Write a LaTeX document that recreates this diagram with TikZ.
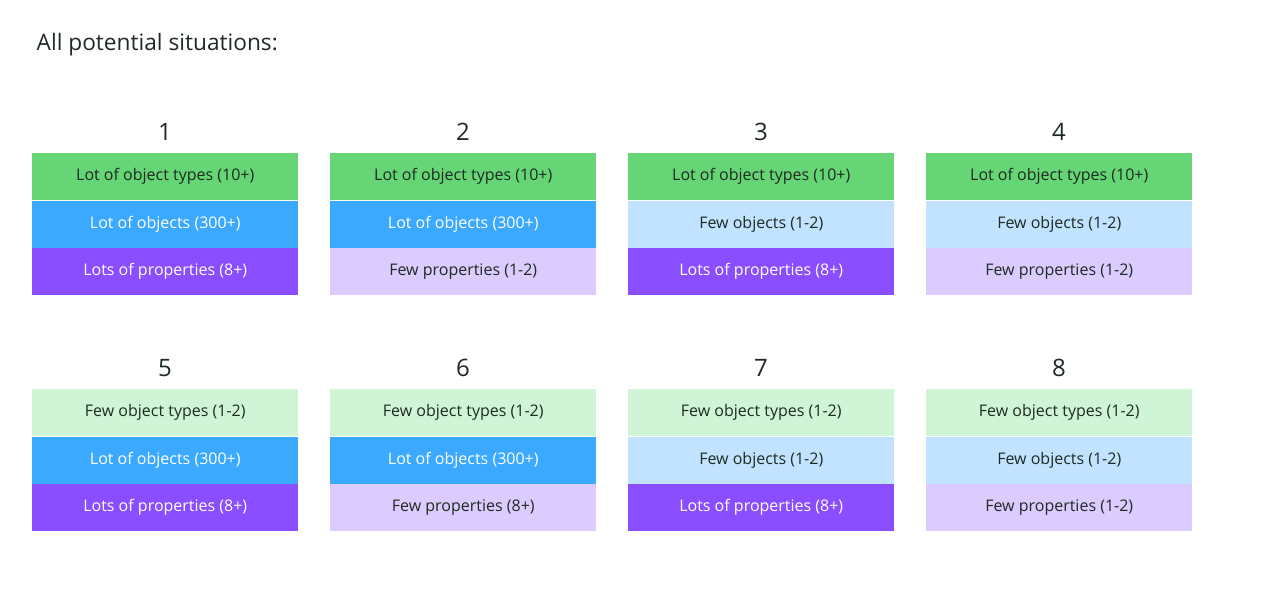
\documentclass[tikz,border=0pt]{standalone}
\usepackage{fontspec}
\setmainfont{Open Sans}
\definecolor{typesLot}{HTML}{66D575}
\definecolor{typesFew}{HTML}{CFF5D6}
\definecolor{objLot}{HTML}{3AA9FF}
\definecolor{objFew}{HTML}{C2E3FF}
\definecolor{propLot}{HTML}{8A4DFF}
\definecolor{propFew}{HTML}{DCCBFF}
\definecolor{ink}{HTML}{1E2A22}
\tikzset{
  cell/.style={minimum width=266*0.75pt, minimum height=47*0.75pt, inner sep=0pt,
    anchor=north west, font=\fontsize{12}{14}\selectfont, text=ink},
  light/.style={cell, text=white},
  num/.style={font=\fontsize{18}{20}\selectfont, text=ink},
}
\begin{document}
\begin{tikzpicture}[x=0.75pt,y=-0.75pt]
\useasboundingbox (0,0) rectangle (1265,607);
\node[anchor=west, font=\fontsize{17}{20}\selectfont, text=ink] (title) at (32,45) {All potential situations:};
%
\foreach \n/\col/\row/\ta/\oa/\pa in {1/0/0/L/L/L, 2/1/0/L/L/F, 3/2/0/L/F/L, 4/3/0/L/F/F,
                                     5/0/1/F/L/L, 6/1/1/F/L/F, 7/2/1/F/F/L, 8/3/1/F/F/F}{
  \pgfmathsetmacro{\xx}{32+298*\col}
  \pgfmathsetmacro{\yy}{153+236*\row}
  \node[num] (n\n) at (\xx+133,\yy-21) {\n};
  \if\ta L
    \node[cell, fill=typesLot] (t\n) at (\xx,\yy) {Lot of object types (10+)};
  \else
    \node[cell, fill=typesFew] (t\n) at (\xx,\yy) {Few object types (1-2)};
  \fi
  \if\oa L
    \node[light, fill=objLot] (o\n) at (\xx,\yy+47.5) {Lot of objects (300+)};
  \else
    \node[cell, fill=objFew] (o\n) at (\xx,\yy+47.5) {Few objects (1-2)};
  \fi
  \if\pa L
    \node[light, fill=propLot] (p\n) at (\xx,\yy+95) {Lots of properties (8+)};
  \else
    \ifnum\n=6
      \node[cell, fill=propFew] (p\n) at (\xx,\yy+95) {Few properties (8+)};
    \else
      \node[cell, fill=propFew] (p\n) at (\xx,\yy+95) {Few properties (1-2)};
    \fi
  \fi
}
\end{tikzpicture}
\end{document}
